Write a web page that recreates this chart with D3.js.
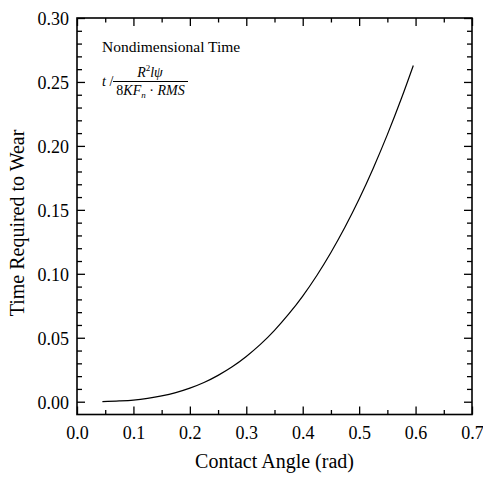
<!DOCTYPE html>
<html>
<head>
<meta charset="utf-8">
<script src="https://d3js.org/d3.v7.min.js"></script>
<style>
  body { margin: 0; background: #fff; }
  svg text { font-family: "Liberation Serif", "Times New Roman", serif !important; fill: #000; }
</style>
</head>
<body>
<svg width="483" height="479" font-family="Liberation Serif"></svg>
<script>
// contact angle (rad) vs nondimensional time required to wear
const angle = [0.045, 0.075, 0.100, 0.125, 0.150, 0.175, 0.200, 0.225, 0.250, 0.275,
               0.300, 0.325, 0.350, 0.375, 0.400, 0.425, 0.450, 0.475, 0.500, 0.525,
               0.550, 0.575, 0.596];
const wearTime = [0.0001, 0.0006, 0.0013, 0.0026, 0.0045, 0.0071, 0.0106, 0.0150, 0.0206, 0.0273,
                  0.0354, 0.0448, 0.0558, 0.0684, 0.0826, 0.0987, 0.1167, 0.1366, 0.1585, 0.1826,
                  0.2088, 0.2372, 0.2629];

const xMajor = [0.0, 0.1, 0.2, 0.3, 0.4, 0.5, 0.6, 0.7];
const xMinor = [0.05, 0.15, 0.25, 0.35, 0.45, 0.55, 0.65];
const yMajor = [0.00, 0.05, 0.10, 0.15, 0.20, 0.25, 0.30];
const yMinor = [0.01, 0.02, 0.03, 0.04, 0.06, 0.07, 0.08, 0.09, 0.11, 0.12, 0.13, 0.14,
                0.16, 0.17, 0.18, 0.19, 0.21, 0.22, 0.23, 0.24, 0.26, 0.27, 0.28, 0.29];

const svg = d3.select('svg');
const serif = '"Liberation Serif", "Times New Roman", serif';
const mLeft = 77, mRight = 472, mTop = 18, mBottom = 414.5;

const x = d3.scaleLinear().domain([0, 0.7]).range([mLeft, mRight]);
const y = d3.scaleLinear().domain([-0.01, 0.30]).range([mBottom, mTop]);

// frame
svg.append('rect')
  .attr('x', mLeft).attr('y', mTop)
  .attr('width', mRight - mLeft).attr('height', mBottom - mTop)
  .attr('fill', 'none').attr('stroke', '#000').attr('stroke-width', 1.6);

// ticks all point inward
function ticks(axis, pos, vals, len, fmt) {
  const g = svg.append('g')
    .attr('transform', pos)
    .call(axis.tickValues(vals).tickSize(-len).tickSizeOuter(0).tickFormat(fmt))
    .attr('font-family', serif);
  g.select('.domain').remove();
  g.selectAll('.tick line').attr('stroke', '#000').attr('stroke-width', 1.3);
  return g;
}

const xLab = ticks(d3.axisBottom(x), `translate(0,${mBottom})`, xMajor, 8, d3.format('.1f'));
xLab.attr('font-size', 18);
xLab.selectAll('text').attr('y', 8).attr('dy', '0.9em');
ticks(d3.axisBottom(x), `translate(0,${mBottom})`, xMinor, 4.5, '');
ticks(d3.axisTop(x), `translate(0,${mTop})`, xMajor, 8, '');
ticks(d3.axisTop(x), `translate(0,${mTop})`, xMinor, 4.5, '');

const yLab = ticks(d3.axisLeft(y), `translate(${mLeft},0)`, yMajor, 8, d3.format('.2f'));
yLab.attr('font-size', 18);
yLab.selectAll('text').attr('x', -8).attr('dy', '0.35em');
ticks(d3.axisLeft(y), `translate(${mLeft},0)`, yMinor, 5, '');
ticks(d3.axisRight(y), `translate(${mRight},0)`, yMajor, 8, '');
ticks(d3.axisRight(y), `translate(${mRight},0)`, yMinor, 5, '');

// curve
const line = d3.line()
  .x((d, i) => x(angle[i]))
  .y(d => y(d))
  .curve(d3.curveMonotoneX);

svg.append('path')
  .datum(wearTime)
  .attr('d', line)
  .attr('fill', 'none')
  .attr('stroke', '#000')
  .attr('stroke-width', 1.2);

// axis titles
svg.append('text')
  .attr('x', (mLeft + mRight) / 2).attr('y', 468)
  .attr('text-anchor', 'middle').attr('font-size', 20)
  .text('Contact Angle (rad)');

svg.append('text')
  .attr('transform', 'translate(24,223) rotate(-90)')
  .attr('text-anchor', 'middle').attr('font-size', 20)
  .text('Time Required to Wear');

// annotation
svg.append('text')
  .attr('x', 102).attr('y', 52).attr('font-size', 15.5)
  .text('Nondimensional Time');

const f = svg.append('g').attr('font-size', 14);
f.append('text').attr('x', 102).attr('y', 86)
  .html('<tspan font-style="italic">t</tspan> /');
const num = f.append('text').attr('x', 150).attr('y', 77).attr('text-anchor', 'middle');
num.append('tspan').attr('font-style', 'italic').text('R');
num.append('tspan').attr('font-size', 9).attr('dy', -6).text('2');
num.append('tspan').attr('font-style', 'italic').attr('dy', 6).text('lψ');
f.append('line')
  .attr('x1', 113).attr('x2', 188).attr('y1', 81.5).attr('y2', 81.5)
  .attr('stroke', '#000').attr('stroke-width', 1);
const den = f.append('text').attr('x', 150.5).attr('y', 95).attr('text-anchor', 'middle');
den.append('tspan').text('8');
den.append('tspan').attr('font-style', 'italic').text('KF');
den.append('tspan').attr('font-style', 'italic').attr('font-size', 9).attr('dy', 3).text('n');
den.append('tspan').attr('dy', -3).text(' · ');
den.append('tspan').attr('font-style', 'italic').text('RMS');
</script>
</body>
</html>
